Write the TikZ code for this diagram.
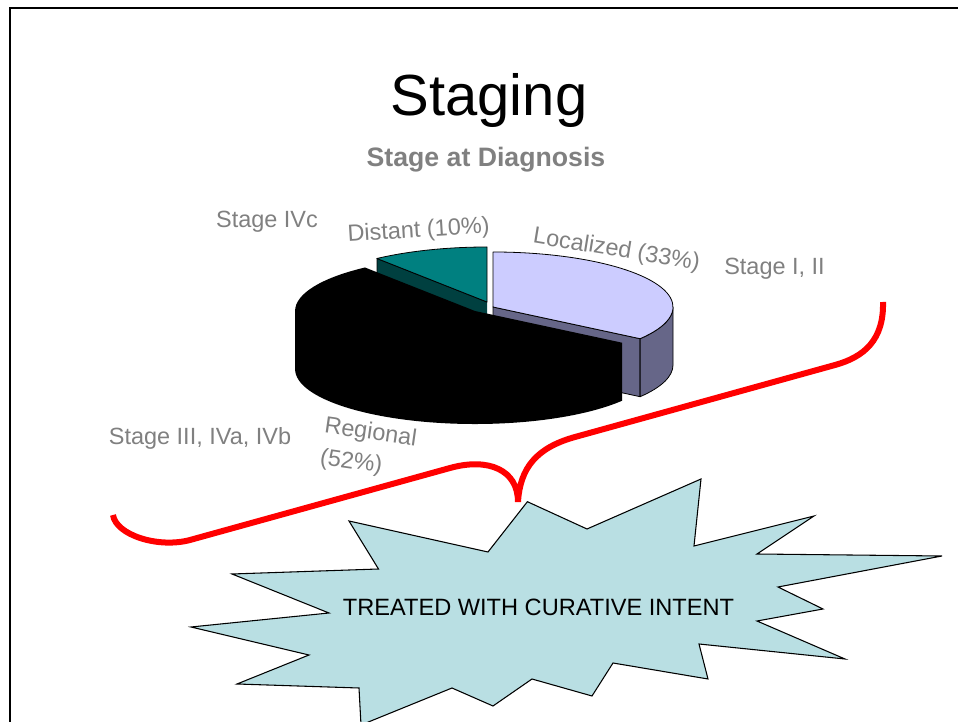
\documentclass[tikz,border=0pt]{standalone}
\usepackage{fontspec}
\setmainfont{Liberation Sans}
\usetikzlibrary{calc}
\definecolor{lavender}{HTML}{CCCCFF}
\definecolor{lavdark}{HTML}{666688}
\definecolor{tealtop}{HTML}{008080}
\definecolor{tealdark}{HTML}{004040}
\definecolor{lblgray}{HTML}{808080}
\definecolor{starblue}{HTML}{B9DFE3}
\tikzset{
  lbl/.style={text=lblgray, font=\fontsize{17.6}{23.8}\selectfont, inner sep=0pt},
  slice/.style={draw=black, line width=0.6pt, line join=round},
  bracecurve/.style={draw=red, line width=4.5pt},
  burst/.style={draw=black, line width=0.8pt, fill=starblue, line join=miter},
  ell/.style={x radius=180, y radius=55},
}
\begin{document}
\begin{tikzpicture}[x=0.75pt, y=0.75pt]
\useasboundingbox (0,0) rectangle (958,722);
% slide frame
\draw[line width=1.5pt] (10,-5) -- (10,714) -- (965,714);

% title and subtitle
\node[anchor=base, inner sep=0pt, font=\fontsize{43.5}{50}\selectfont] (title) at (489,606) {Staging};
\node[anchor=base, inner sep=0pt, text=lblgray, font=\fontsize{20}{24}\selectfont\bfseries] (subtitle) at (486,555) {Stage at Diagnosis};

% Distant slice (10%)
\fill[tealdark] (487,420) -- (377,463.5) -- (377,405.5) -- (487,362) -- cycle;
\draw[slice] (487,420) -- (377,463.5) -- (377,405.5);
\draw[slice, fill=tealtop] (487,420) -- (487,475) arc[start angle=90, end angle=127.7, ell] -- cycle;

% Localized slice (33%)
\draw[slice, fill=lavdark] (493,415) -- (640.1,383.3) -- (640.1,325.3) -- (493,357) -- cycle;
\draw[slice, fill=lavdark] (640.1,383.3) arc[start angle=-35.2, end angle=0, ell] -- ++(0,-58) arc[start angle=0, end angle=-35.2, ell] -- cycle;
\draw[slice, fill=lavender] (493,415) -- (640.1,383.3) arc[start angle=-35.2, end angle=90, ell] -- cycle;

% Regional slice (52%): one silhouette, all black
\fill[black] (475,411) -- (365,454.5) arc[start angle=127.7, end angle=180, ell]
  -- ++(0,-58) arc[start angle=180, end angle=324.8, ell] -- ++(0,58) -- cycle;

% pie labels
\node[lbl, anchor=base] (ivc) at (267,494) {Stage IVc};
\node[lbl, anchor=base, rotate=3.6] (distant) at (419,484.5) {Distant (10\%)};
\node[lbl, anchor=base, rotate=-9.3] (localized) at (615.5,465.5) {Localized (33\%)};
\node[lbl, anchor=base] (st12) at (774.5,447) {Stage I, II};
\node[lbl, anchor=base] (st34) at (200,277) {Stage III, IVa, IVb};
\node[lbl, anchor=base west, rotate=-8.2, align=left] (regional) at (319,258) {Regional\\(52\%)};

% starburst
\draw[burst] (527.4,220.3) -- (587,193) -- (701,243) -- (694,176) -- (814,206) -- (757,168)
  -- (942,166) -- (778,135) -- (823,113) -- (757,101) -- (845,63) -- (699,78) -- (708,43)
  -- (613,59) -- (592,26) -- (532,43) -- (493,16) -- (452,34) -- (361,-3) -- (359,34)
  -- (237,38) -- (309,67) -- (191,95) -- (329,109) -- (232,148) -- (378.5,153)
  -- (349,201) -- (488,170) -- cycle;
\node[anchor=base, inner sep=0pt, font=\fontsize{17.7}{21}\selectfont] (cure) at (538.5,106) {TREATED WITH CURATIVE INTENT};

% red brace
\draw[bracecurve] (113,207) .. controls (116,187) and (158,173.5) .. (190,182)
  -- (450,254) .. controls (488.6,264.7) and (518,252) .. (518,220)
  .. controls (520,254) and (536.4,274.3) .. (575,285)
  -- (835,357) .. controls (864,365) and (884,382) .. (883,420);
\end{tikzpicture}
\end{document}
